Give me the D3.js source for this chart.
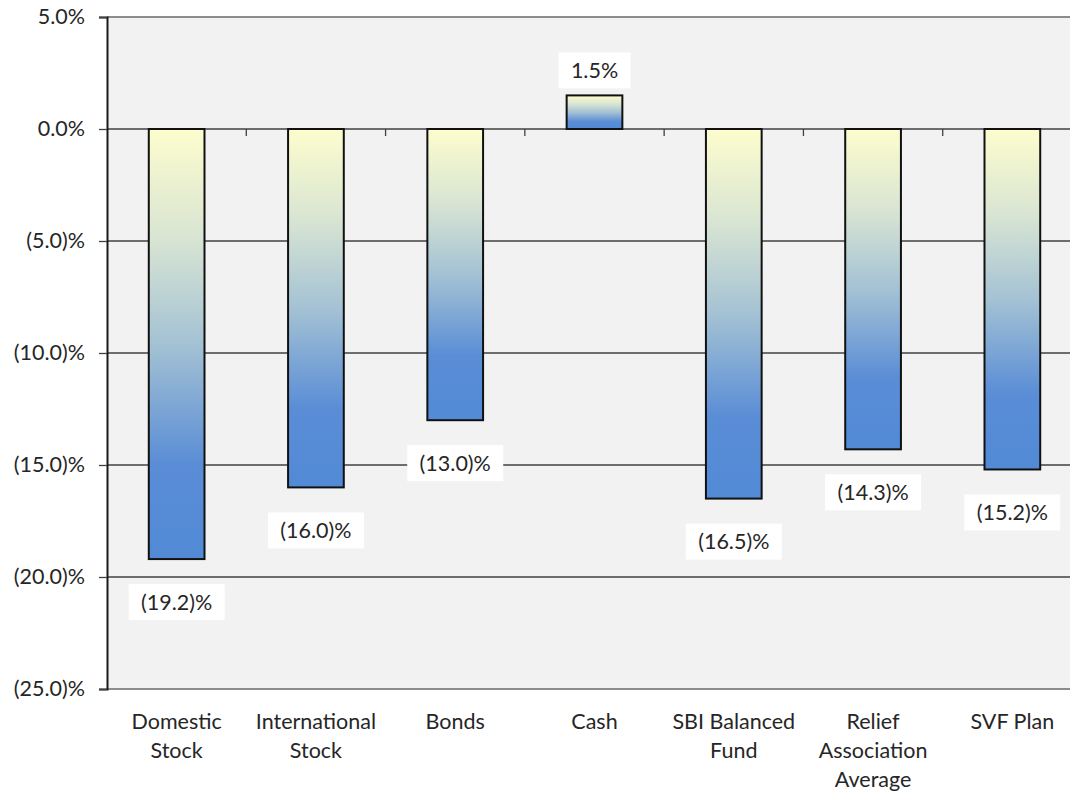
<!DOCTYPE html>
<html>
<head>
<meta charset="utf-8">
<script src="https://cdn.jsdelivr.net/npm/d3@7"></script>
<style>
  html, body { margin: 0; padding: 0; background: #ffffff; }
  svg { display: block; }
  text { font-family: Lato, "Open Sans", "Liberation Sans", sans-serif; fill: #262626; }
</style>
</head>
<body>
<svg id="chart" width="1070" height="791"></svg>
<script>
// Asset class returns (percent)
const categories = [
  ["Domestic", "Stock"],
  ["International", "Stock"],
  ["Bonds"],
  ["Cash"],
  ["SBI Balanced", "Fund"],
  ["Relief", "Association", "Average"],
  ["SVF Plan"]
];
const returns = [-19.2, -16.0, -13.0, 1.5, -16.5, -14.3, -15.2];
const yTicks = [5, 0, -5, -10, -15, -20, -25];

const svg = d3.select("#chart");
const plotLeft = 107, plotTop = 17, plotRight = 1082, plotBottom = 689;
const fontSize = "21.5px";

const x = d3.scaleBand()
  .domain(d3.range(categories.length))
  .range([plotLeft, plotRight])
  .paddingInner(0.6)
  .paddingOuter(0.3);

const y = d3.scaleLinear().domain([-25, 5]).range([plotBottom, plotTop]);

const fmt = v => v < 0 ? "(" + d3.format(".1f")(-v) + ")%" : d3.format(".1f")(v) + "%";

// gradient for bars
const defs = svg.append("defs");
const grad = defs.append("linearGradient")
  .attr("id", "barFill").attr("x1", 0).attr("y1", 0).attr("x2", 0).attr("y2", 1);
[[0, "#fdfdcd"], [0.25, "#d9e5d3"], [0.5, "#a4c2d4"], [0.78, "#5a8dd6"], [1, "#528ad6"]]
  .forEach(([o, c]) => grad.append("stop").attr("offset", o).attr("stop-color", c));

// plot background
svg.append("rect")
  .attr("x", plotLeft).attr("y", plotTop)
  .attr("width", plotRight - plotLeft).attr("height", plotBottom - plotTop)
  .attr("fill", "#f2f2f2");

// gridlines
svg.append("g").selectAll("line")
  .data(yTicks.filter(t => t !== 5 && t !== -25))
  .join("line")
  .attr("x1", plotLeft).attr("x2", plotRight)
  .attr("y1", d => y(d)).attr("y2", d => y(d))
  .attr("stroke", "#404040").attr("stroke-width", 1.3);

// top and bottom frame
svg.append("line").attr("x1", plotLeft).attr("x2", plotRight)
  .attr("y1", y(5)).attr("y2", y(5)).attr("stroke", "#8c8c8c").attr("stroke-width", 2);
svg.append("line").attr("x1", plotLeft).attr("x2", plotRight)
  .attr("y1", y(-25)).attr("y2", y(-25)).attr("stroke", "#8c8c8c").attr("stroke-width", 2);

// category ticks on the zero line
const step = x.step();
const boundaries = d3.range(1, categories.length).map(i => x(i) - x.paddingInner() * step / 2);
svg.append("g").selectAll("line").data(boundaries).join("line")
  .attr("x1", d => d).attr("x2", d => d)
  .attr("y1", y(0)).attr("y2", y(0) + 7)
  .attr("stroke", "#404040").attr("stroke-width", 1.3);

// y axis
const yAxis = d3.axisLeft(y).tickValues(yTicks).tickSize(8).tickPadding(14).tickFormat(fmt);
const ga = svg.append("g").attr("transform", `translate(${plotLeft},0)`).call(yAxis);
ga.select(".domain").attr("stroke", "#1a1a1a").attr("stroke-width", 2);
ga.selectAll(".tick line").attr("stroke", "#404040").attr("stroke-width", 1.3);
ga.selectAll(".tick text").style("font-size", fontSize).style("fill", "#262626")
  .style("font-family", "Lato, 'Open Sans', sans-serif");

// bars
svg.append("g").selectAll("rect").data(returns).join("rect")
  .attr("x", (d, i) => x(i))
  .attr("width", x.bandwidth())
  .attr("y", d => y(Math.max(0, d)))
  .attr("height", d => Math.abs(y(d) - y(0)))
  .attr("fill", "url(#barFill)")
  .attr("stroke", "#111").attr("stroke-width", 2);

// value labels with white boxes
const lbl = svg.append("g").selectAll("g").data(returns).join("g")
  .attr("transform", (d, i) => {
    const cx = x(i) + x.bandwidth() / 2;
    const cy = d < 0 ? y(d) + 43 : y(d) - 25;
    return `translate(${cx},${cy})`;
  });
lbl.append("rect")
  .attr("x", d => d < 0 ? -48 : -36).attr("y", -18)
  .attr("width", d => d < 0 ? 96 : 72).attr("height", 36)
  .attr("fill", "#ffffff");
lbl.append("text")
  .attr("text-anchor", "middle").attr("dy", "0.35em")
  .style("font-size", fontSize)
  .text(fmt);

// category labels
const cat = svg.append("g").selectAll("text").data(categories).join("text")
  .attr("text-anchor", "middle")
  .attr("x", (d, i) => x(i) + x.bandwidth() / 2)
  .attr("y", 729)
  .style("font-size", fontSize);
cat.selectAll("tspan").data(d => d).join("tspan")
  .attr("x", function () { return d3.select(this.parentNode).attr("x"); })
  .attr("dy", (d, j) => j === 0 ? 0 : 29)
  .text(d => d);
</script>
</body>
</html>
